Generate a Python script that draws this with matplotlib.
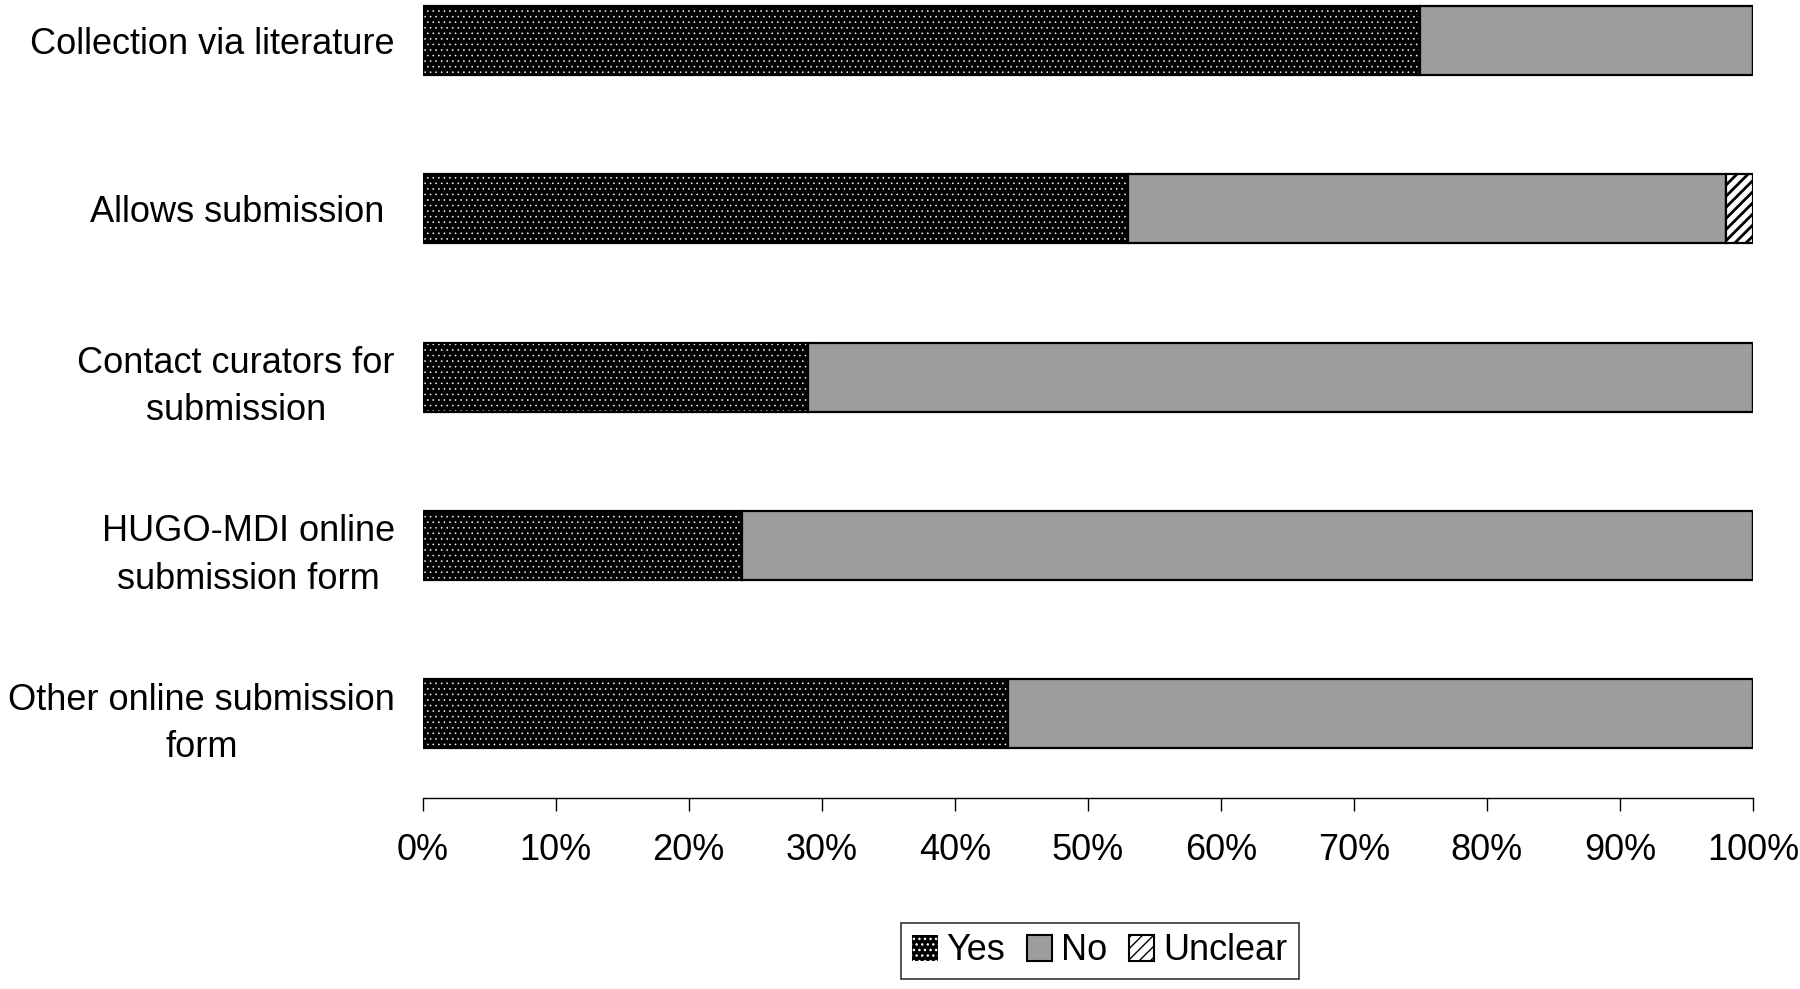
import numpy as np
import matplotlib.pyplot as plt
from matplotlib.patches import Patch

plt.rcParams['font.family'] = ['Liberation Sans', 'DejaVu Sans']

# categories, top to bottom
categories = ['Collection via literature', 'Allows submission ',
              'Contact curators for\nsubmission',
              'HUGO-MDI online\nsubmission form',
              'Other online submission\nform']

# percent of databases
yes     = [75, 53, 29, 24, 44]
no      = [25, 45, 71, 76, 56]
unclear = [0, 2, 0, 0, 0]

fig = plt.figure(figsize=(18, 9.89), dpi=100)
ax = fig.add_axes([422.5/1800, 191/989, 1330.5/1800, 798/989])

y = np.arange(len(categories))
h = 0.41
yes_left = np.zeros(len(y))
no_left = np.array(yes)
unc_left = np.array(yes) + np.array(no)

# Yes: black with fine white dots, outline drawn on top
with plt.rc_context({'hatch.linewidth': 0.4}):
    ax.barh(y, yes, h, left=yes_left, color='black', edgecolor='white', hatch='...', linewidth=0)
    dot_handle = Patch(facecolor='black', edgecolor='white', hatch='...', linewidth=0)
ax.barh(y, yes, h, left=yes_left, fill=False, edgecolor='black', linewidth=1.6)
ax.barh(y, no, h, left=no_left, color='#9d9d9d', edgecolor='black', linewidth=1.6)
with plt.rc_context({'hatch.linewidth': 2.0}):
    ax.barh(y, unclear, h, left=unc_left, color='white', edgecolor='black', hatch='///', linewidth=1.6)
    hatch_handle = Patch(facecolor='white', edgecolor='black', hatch='///', linewidth=1.5)

ax.set_xlim(0, 100)
ax.set_ylim(4.5, -0.24)
ax.set_xticks(np.arange(0, 101, 10))
ax.set_xticklabels(['%d%%' % v for v in range(0, 101, 10)], fontsize=26)
ax.set_yticks(y)
ax.set_yticklabels(categories, fontsize=26, multialignment='center', linespacing=1.45)
ax.tick_params(axis='y', length=0, pad=20)
ax.tick_params(axis='x', length=9, width=1, pad=16, direction='out')
for s in ['left', 'right', 'top']:
    ax.spines[s].set_visible(False)
ax.spines['bottom'].set_linewidth(1)
ax.spines['bottom'].set_bounds(0, 100)

handles = [dot_handle,
           Patch(facecolor='#9d9d9d', edgecolor='black', linewidth=1.5),
           hatch_handle]
leg = fig.legend(handles, ['Yes', 'No', 'Unclear'], ncol=3, fontsize=26,
                 loc='center', bbox_to_anchor=(1100/1800, 1 - 951/989),
                 frameon=True, fancybox=False, edgecolor='black',
                 handlelength=0.7, handleheight=0.7, handletextpad=0.25,
                 columnspacing=0.6, borderpad=0.3)
leg.get_frame().set_linewidth(1.2)

plt.savefig('out.png', dpi=100)
